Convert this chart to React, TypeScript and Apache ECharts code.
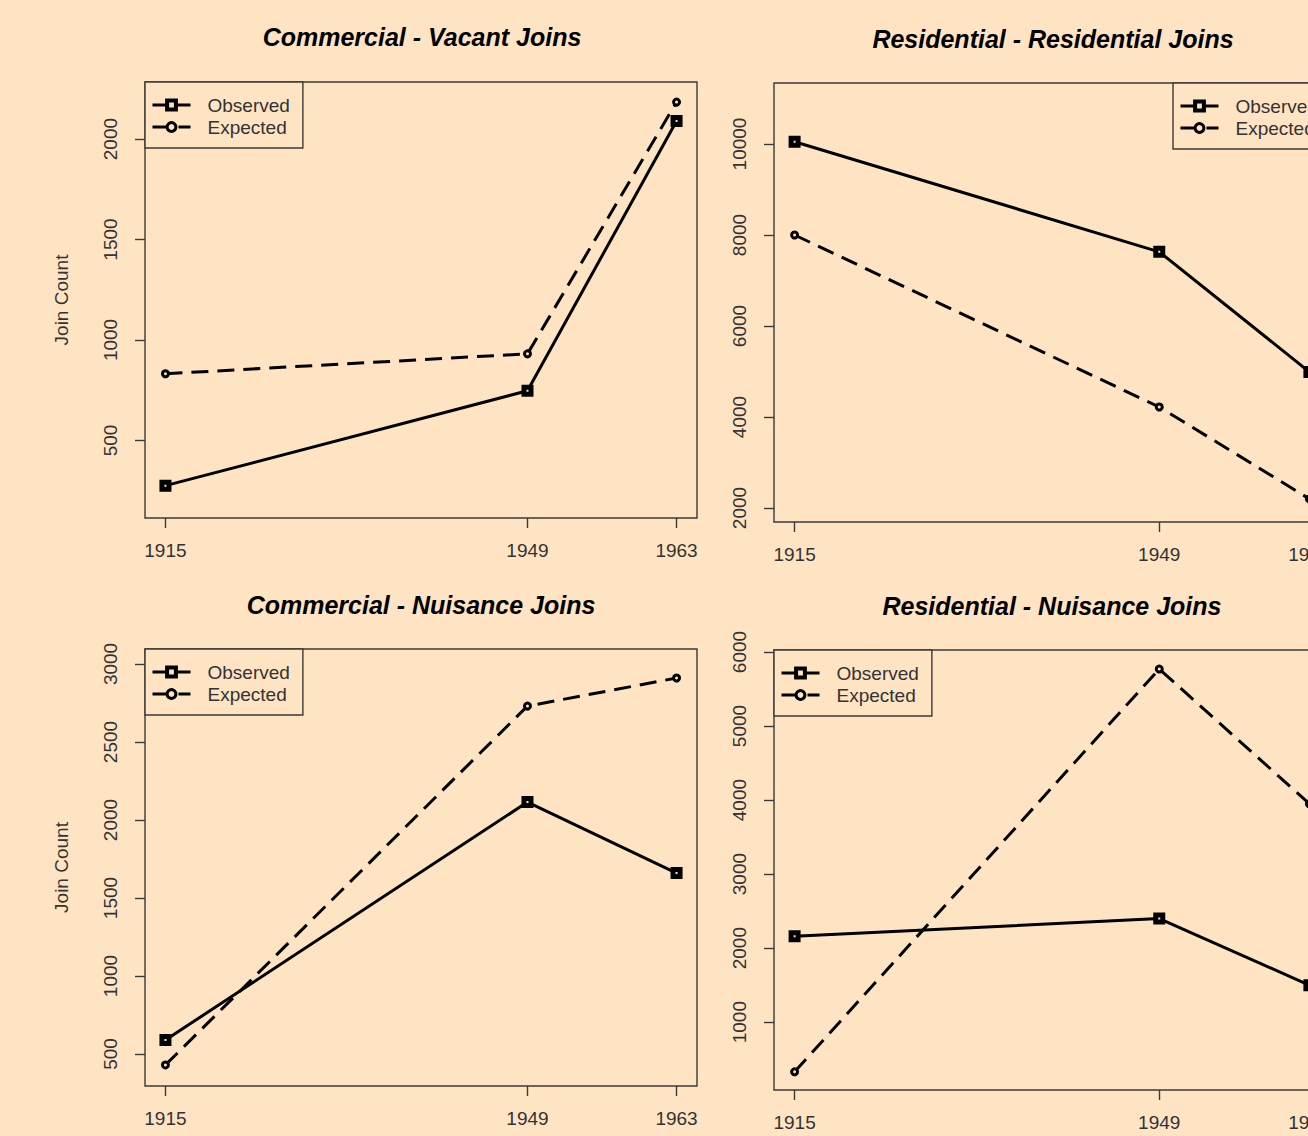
import React, { useEffect, useRef } from "react";
import * as echarts from "echarts";

const BG = "#FFE4C4";
const FONT = '"Liberation Sans", Arial, sans-serif';

const years = [1915, 1949, 1963];
const panelTitles = [
  "Commercial - Vacant Joins",
  "Residential - Residential Joins",
  "Commercial - Nuisance Joins",
  "Residential - Nuisance Joins",
];
const seriesNames = ["Observed", "Expected"];

const cvObserved = [275, 747, 2090];
const cvExpected = [832, 931, 2184];
const rrObserved = [10050, 7630, 4990];
const rrExpected = [8000, 4220, 2200];
const cnObserved = [590, 2115, 1660];
const cnExpected = [430, 2730, 2910];
const rnObserved = [2160, 2400, 1500];
const rnExpected = [330, 5770, 3950];

const cvTicks = [500, 1000, 1500, 2000];
const rrTicks = [2000, 4000, 6000, 8000, 10000];
const cnTicks = [500, 1000, 1500, 2000, 2500, 3000];
const rnTicks = [1000, 2000, 3000, 4000, 5000, 6000];

const xRange = [1913.08, 1964.92];
const cvRange = [114, 2284];
const rrRange = [1692, 11341];
const cnRange = [295, 3096];
const rnRange = [84, 6027];

const observedSets = [cvObserved, rrObserved, cnObserved, rnObserved];
const expectedSets = [cvExpected, rrExpected, cnExpected, rnExpected];
const tickSets = [cvTicks, rrTicks, cnTicks, rnTicks];
const rangeSets = [cvRange, rrRange, cnRange, rnRange];

const grids = [
  { left: 145, top: 82, width: 552, height: 436 },
  { left: 774, top: 83, width: 556, height: 439 },
  { left: 145, top: 649, width: 552, height: 437 },
  { left: 774, top: 650, width: 556, height: 440 },
];
const legendPos = [
  { left: 145, top: 82 },
  { left: 1173, top: 83 },
  { left: 145, top: 649 },
  { left: 774, top: 650 },
];
const titlePos = [
  { x: 422, y: 37 },
  { x: 1053, y: 39 },
  { x: 421, y: 605 },
  { x: 1052, y: 606 },
];

const DASH = [17, 9];

export default function App() {
  const ref = useRef<HTMLDivElement>(null);
  useEffect(() => {
    if (!ref.current) return;
    const chart = echarts.init(ref.current, null, { renderer: "svg" });
    const option: any = {
      animation: false,
      backgroundColor: BG,
      textStyle: { fontFamily: FONT },
      grid: grids.map((g) => ({
        ...g,
        show: true,
        borderColor: "#3a3a3a",
        borderWidth: 1.4,
        backgroundColor: "transparent",
        containLabel: false,
        outerBoundsMode: "none",
      })),
      xAxis: grids.map((_, i) => ({
        type: "value",
        gridIndex: i,
        min: xRange[0],
        max: xRange[1],
        axisLine: { show: false },
        splitLine: { show: false },
        axisTick: {
          show: true,
          inside: false,
          length: 10,
          lineStyle: { color: "#3a3a3a", width: 1.4 },
          customValues: years,
        },
        axisLabel: {
          customValues: years,
          margin: 23,
          fontSize: 19,
          color: "#333",
          fontFamily: FONT,
          formatter: (v: number) => String(v),
        },
      })),
      yAxis: grids.map((_, i) => ({
        type: "value",
        gridIndex: i,
        min: rangeSets[i][0],
        max: rangeSets[i][1],
        name: i % 2 === 0 ? "Join Count" : "",
        nameLocation: "middle",
        nameGap: 74,
        nameRotate: 90,
        nameTextStyle: { fontSize: 19, color: "#333", fontFamily: FONT },
        axisLine: { show: false },
        splitLine: { show: false },
        axisTick: {
          show: true,
          inside: false,
          length: 10,
          lineStyle: { color: "#3a3a3a", width: 1.4 },
          customValues: tickSets[i],
        },
        axisLabel: {
          customValues: tickSets[i],
          rotate: 90,
          margin: 25,
          fontSize: 19,
          color: "#333",
          fontFamily: FONT,
          formatter: (v: number) => String(v),
        },
      })),
      legend: legendPos.map((p) => ({
        ...p,
        orient: "vertical",
        selectedMode: false,
        data: [
          {
            name: seriesNames[0],
            itemStyle: { borderWidth: 4 },
            lineStyle: { width: 3, type: "solid", color: "#000" },
          },
          {
            name: seriesNames[1],
            itemStyle: { borderWidth: 3 },
            lineStyle: { width: 3, type: DASH, color: "#000" },
          },
        ],
        itemWidth: 38,
        itemHeight: 11,
        itemGap: 3,
        padding: [13.5, 13, 11.5, 6],
        backgroundColor: BG,
        borderColor: "#3a3a3a",
        borderWidth: 1.4,
        borderRadius: 0,
        textStyle: {
          fontSize: 19,
          color: "#333",
          fontFamily: FONT,
          padding: [0, 0, 0, 12],
        },
      })),
      graphic: titlePos.map((p, i) => ({
        type: "text",
        x: p.x,
        y: p.y,
        style: {
          text: panelTitles[i],
          font: `italic bold 25px ${FONT}`,
          fill: "#000",
          align: "center",
          verticalAlign: "middle",
          textAlign: "center",
          textVerticalAlign: "middle",
        },
      })),
      series: grids.flatMap((_, i) => [
        {
          type: "line",
          name: seriesNames[0],
          xAxisIndex: i,
          yAxisIndex: i,
          data: years.map((y, j) => [y, observedSets[i][j]]),
          symbol: "rect",
          symbolSize: 7,
          itemStyle: { color: BG, borderColor: "#000", borderWidth: 5 },
          lineStyle: { color: "#000", width: 3, type: "solid" },
          emphasis: { disabled: true },
        },
        {
          type: "line",
          name: seriesNames[1],
          xAxisIndex: i,
          yAxisIndex: i,
          data: years.map((y, j) => [y, expectedSets[i][j]]),
          symbol: "circle",
          symbolSize: 6,
          itemStyle: { color: BG, borderColor: "#000", borderWidth: 3 },
          lineStyle: { color: "#000", width: 3, type: DASH },
          emphasis: { disabled: true },
        },
      ]),
    };
    chart.setOption(option);
    return () => chart.dispose();
  }, []);
  return (
    <div
      ref={ref}
      style={{
        position: "absolute",
        left: 0,
        top: 0,
        width: 1308,
        height: 1136,
        overflow: "hidden",
        background: BG,
      }}
    />
  );
}
